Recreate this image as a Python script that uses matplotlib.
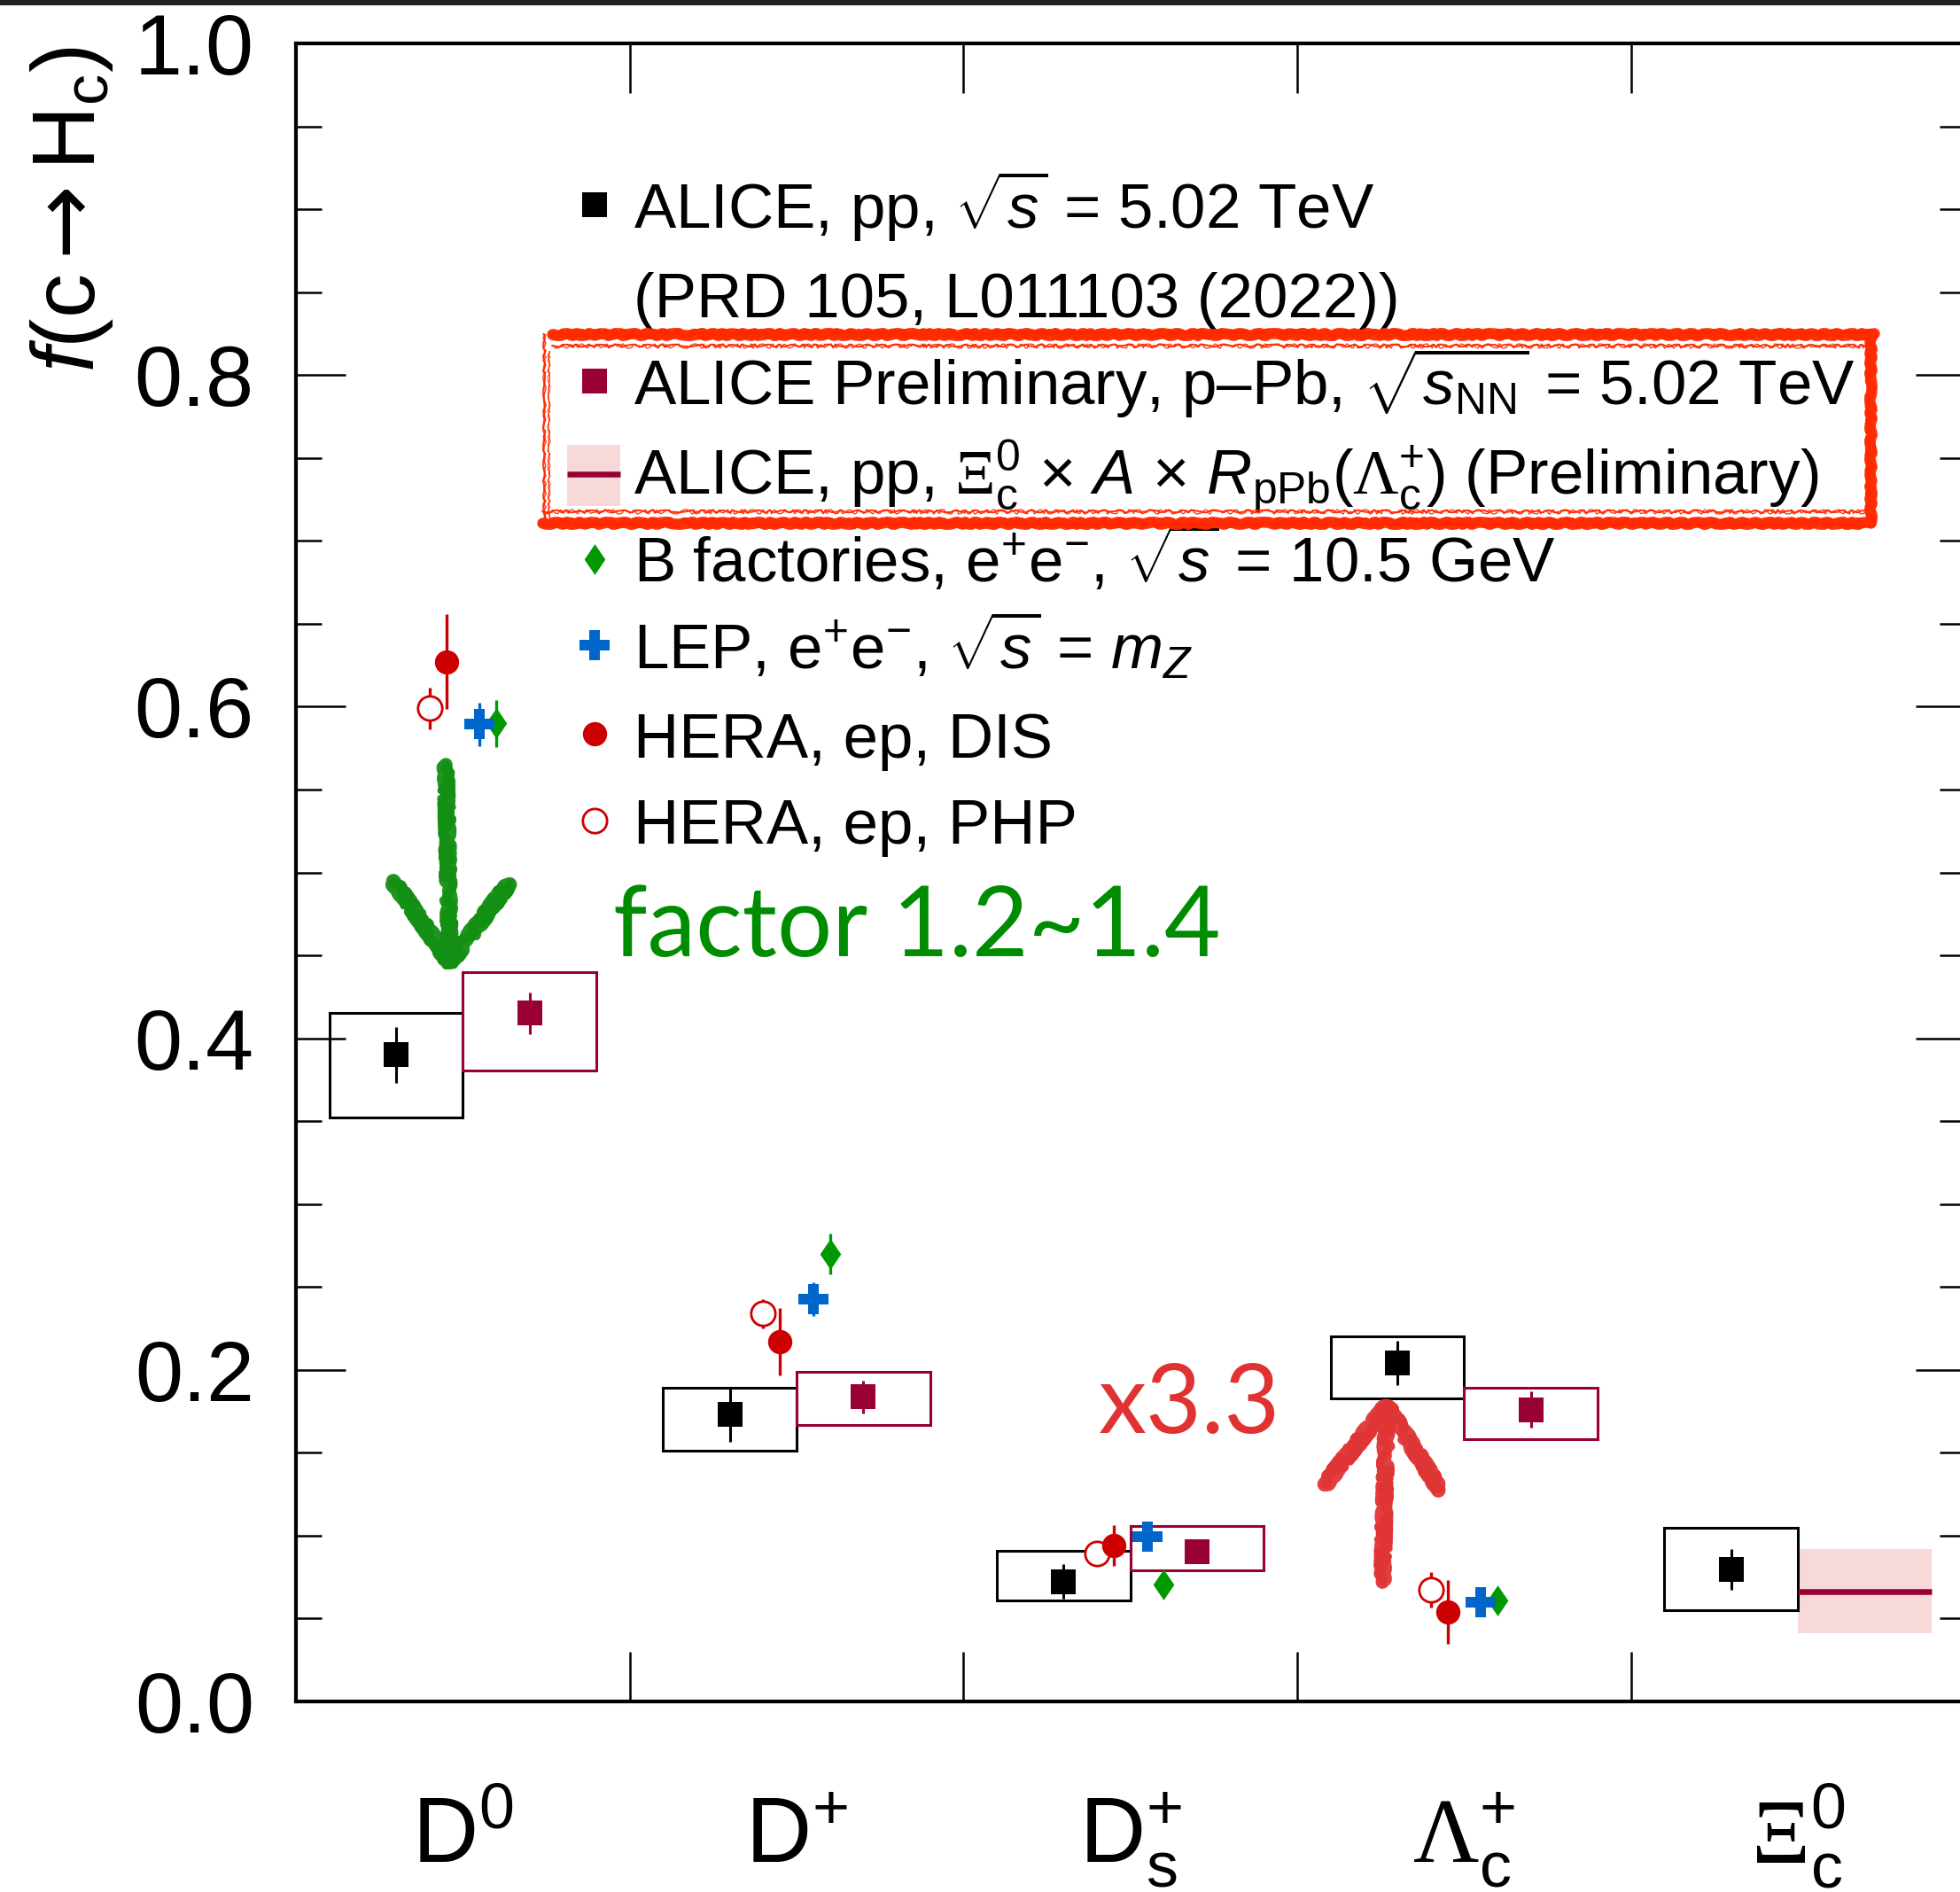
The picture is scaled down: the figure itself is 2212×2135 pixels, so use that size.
import matplotlib
matplotlib.use('Agg')
import matplotlib.pyplot as plt
import numpy as np
from matplotlib.patches import Rectangle
from matplotlib.ticker import MultipleLocator, FormatStrFormatter

plt.rcParams['font.family'] = ['Liberation Sans', 'DejaVu Sans']
plt.rcParams['mathtext.fontset'] = 'custom'
plt.rcParams['mathtext.rm'] = 'Liberation Sans'
plt.rcParams['mathtext.it'] = 'Liberation Sans:italic'
plt.rcParams['mathtext.bf'] = 'Liberation Sans:bold'
plt.rcParams['mathtext.sf'] = 'Liberation Serif'
plt.rcParams['mathtext.tt'] = 'DejaVu Sans'   # used only for the arrow glyph

# charm hadron species
hadrons = [r'$\mathrm{D^{0}}$', r'$\mathrm{D^{+}}$', r'$\mathrm{D_{s}^{+}}$',
           r'$\mathsf{\Lambda}_{\mathrm{c}}^{+}$', r'$\mathsf{\Xi}_{\mathrm{c}}^{0}$']

# ALICE pp 5.02 TeV (PRD 105, L011103)
pp_val = [0.390, 0.173, 0.0724, 0.2042, 0.0796]
pp_stat = [0.017, 0.0166, 0.0104, 0.0132, 0.0125]
pp_sys_lo = [0.352, 0.1514, 0.0611, 0.1826, 0.0552]
pp_sys_hi = [0.4153, 0.1893, 0.0909, 0.2200, 0.1046]

# ALICE preliminary p-Pb 5.02 TeV (D0, D+, Ds+, Lc+)
ppb_val = [0.4152, 0.1836, 0.0901, 0.1759]
ppb_stat = [0.0125, 0.010, 0.004, 0.011]
ppb_sys_lo = [0.3804, 0.1669, 0.0791, 0.1580]
ppb_sys_hi = [0.4398, 0.1986, 0.1057, 0.1892]

# Xi_c0 in p-Pb from pp x A x R_pPb(Lc+)
xic_ppb_val = 0.0664
xic_ppb_lo = 0.0410
xic_ppb_hi = 0.0917

# e+e- and ep results (D0, D+, Ds+, Lc+)
bfac_val = [0.5898, 0.2699, 0.0703, 0.0609]
bfac_err = [0.014, 0.0123, 0.004, 0.004]
lep_val = [0.5893, 0.2426, 0.0992, 0.0600]
lep_err = [0.013, 0.0103, 0.004, 0.004]
dis_val = [0.6271, 0.2168, 0.0939, 0.0538]
dis_err = [0.0287, 0.0203, 0.0123, 0.0193]
php_val = [0.5989, 0.2339, 0.0894, 0.0671]
php_err = [0.0126, 0.0089, 0.004, 0.0107]

c_pp = 'black'
c_ppb = '#990033'
c_band = '#f8d9d9'
c_bfac = '#009900'
c_lep = '#0066cc'
c_hera = '#cc0000'

diamond = [(0, 1), (0.68, 0), (0, -1), (-0.68, 0)]

fig = plt.figure(figsize=(22.12, 21.35), dpi=100)
ax = fig.add_axes([334/2212, 215/2135, 1883.5/2212, 1871/2135])

idx = np.arange(len(pp_val))
idx4 = np.arange(len(ppb_val))

# systematic boxes
for i in idx:
    ax.add_patch(Rectangle((i + 0.1, pp_sys_lo[i]), 0.4, pp_sys_hi[i] - pp_sys_lo[i],
                           fill=False, ec=c_pp, lw=2.2, zorder=2))
for i in idx4:
    ax.add_patch(Rectangle((i + 0.5, ppb_sys_lo[i]), 0.4, ppb_sys_hi[i] - ppb_sys_lo[i],
                           fill=False, ec=c_ppb, lw=2.2, zorder=2))

# Xi_c0 p-Pb estimate band
ax.fill_between([4.5, 4.9], [xic_ppb_lo]*2, [xic_ppb_hi]*2, color=c_band, lw=0, zorder=1)
ax.plot([4.5, 4.9], [xic_ppb_val]*2, color=c_ppb, lw=4.7, solid_capstyle='butt', zorder=2)

ax.errorbar(idx + 0.3, pp_val, yerr=pp_stat, fmt='s', color=c_pp, ms=19.5, mew=0,
            elinewidth=2.2, capsize=0, zorder=4)
ax.errorbar(idx4 + 0.7, ppb_val, yerr=ppb_stat, fmt='s', color=c_ppb, ms=19.5, mew=0,
            elinewidth=2.2, capsize=0, zorder=4)
ax.errorbar(idx4 + 0.4, php_val, yerr=php_err, fmt='o', color=c_hera, mfc='white', ms=19.7,
            mew=2.0, elinewidth=2.4, capsize=0, zorder=4)
ax.errorbar(idx4 + 0.45, dis_val, yerr=dis_err, fmt='o', color=c_hera, ms=19.7, mew=0,
            elinewidth=2.4, capsize=0, zorder=4)
ax.errorbar(idx4 + 0.55, lep_val, yerr=lep_err, fmt='P', color=c_lep, ms=23.8, mew=0,
            elinewidth=2.4, capsize=0, zorder=4)
ax.errorbar(idx4 + 0.6, bfac_val, yerr=bfac_err, fmt='none', ecolor=c_bfac,
            elinewidth=2.4, capsize=0, zorder=4)
ax.plot(idx4 + 0.6, bfac_val, ls='none', marker=diamond, color=c_bfac, ms=25, mew=0, zorder=4)

ax.set_xlim(0, 5)
ax.set_ylim(0, 1.0)

# axes styling
for s in ax.spines.values():
    s.set_linewidth(3.0)
ax.set_xticks([1, 2, 3, 4])
ax.set_xticklabels([])
ax.set_xticks(idx + 0.5, minor=True)
ax.set_xticklabels(hadrons, minor=True, fontsize=74)
for lab in ax.get_xticklabels(minor=True):
    lab.set_verticalalignment('baseline')
ax.yaxis.set_major_locator(MultipleLocator(0.2))
ax.yaxis.set_minor_locator(MultipleLocator(0.05))
ax.yaxis.set_major_formatter(FormatStrFormatter('%.1f'))
ax.tick_params(axis='both', which='both', direction='in', top=True, right=True, width=1.8)
ax.tick_params(axis='both', which='major', length=40)
ax.tick_params(axis='y', which='minor', length=21)
ax.tick_params(axis='x', which='minor', length=0, pad=131)
ax.tick_params(axis='y', which='major', labelsize=70, pad=34)

ax.set_ylabel(r'$f$(c$\mathtt{\rightarrow}$H$_{\mathrm{c}}$)', fontsize=72, loc='top')
ax.yaxis.set_label_coords(-0.1205, 0.9984)
ax.yaxis.label.set_verticalalignment('baseline')

# legend drawn by hand, row baselines in data units
leg_x_mark = 0.895
leg_x_text = 1.012
leg_base = [0.8883, 0.8349, 0.7819, 0.7285, 0.6750, 0.6227, 0.5692, 0.5173]
leg_text = [r'ALICE, pp, $\sqrt{s}$ = 5.02 TeV',
            '(PRD 105, L011103 (2022))',
            r'ALICE Preliminary, p–Pb, $\sqrt{s_{\mathrm{NN}}}$ = 5.02 TeV',
            r'ALICE, pp, $\mathsf{\Xi}_{\mathrm{c}}^{\mathrm{0}}$ × $A$ × $R_{\mathrm{pPb}}$($\mathsf{\Lambda}_{\mathrm{c}}^{+}$) (Preliminary)',
            r'B factories, e$^{+}$e$^{-}$, $\sqrt{s}$ = 10.5 GeV',
            r'LEP, e$^{+}$e$^{-}$, $\sqrt{s}$ = $m_{Z}$',
            'HERA, ep, DIS',
            'HERA, ep, PHP']
for y, t in zip(leg_base, leg_text):
    ax.text(leg_x_text, y, t, fontsize=51, ha='left', va='baseline', zorder=5)

off = 0.0142
ax.plot(leg_x_mark, leg_base[0] + off, 's', color=c_pp, ms=19.5, mew=0)
ax.plot(leg_x_mark, leg_base[2] + off, 's', color=c_ppb, ms=19.5, mew=0)
ax.add_patch(Rectangle((0.812, 0.7212), 0.16, 0.0365, color=c_band, lw=0))
ax.plot([0.812, 0.972], [0.740, 0.740], color=c_ppb, lw=4.7, solid_capstyle='butt')
ax.plot(leg_x_mark, leg_base[4] + off, ls='none', marker=diamond, color=c_bfac, ms=25, mew=0)
ax.plot(leg_x_mark, leg_base[5] + off, 'P', color=c_lep, ms=23.8, mew=0)
ax.plot(leg_x_mark, leg_base[6] + off, 'o', color=c_hera, ms=19.7, mew=0)
ax.plot(leg_x_mark, leg_base[7] + off, 'o', color=c_hera, mfc='white', ms=19.7, mew=2.0)


def scribble(xs, ys, color, lw, z=6, scale=3, rnd=25):
    # rough, hand-drawn looking stroke
    for w, sc, ln in [(lw, scale, 30), (lw * 0.6, scale * 2, 18)]:
        line, = ax.plot(xs, ys, color=color, lw=w, solid_capstyle='round',
                        solid_joinstyle='round', zorder=z, alpha=0.95)
        line.set_sketch_params(scale=sc, length=ln, randomness=rnd)


# red highlight around the p-Pb entries
c_mark = '#ff2a00'
rx0, rx1, ry0, ry1 = 0.738, 4.717, 0.7109, 0.8247
for dy in (0.0, 0.007):
    w = 9 if dy == 0 else 1.5
    scribble([rx0 + 0.03, rx1 + 0.01], [ry1 - dy, ry1 - dy], c_mark, w, scale=1.2, rnd=8)
    scribble([rx0, rx1], [ry0 + dy, ry0 + dy], c_mark, w, scale=1.2, rnd=8)
    scribble([rx1 - dy, rx1 - dy], [ry0, ry1], c_mark, w, scale=1.2, rnd=8)
scribble([rx0 + 0.004, rx0 + 0.004], [ry0, ry1], c_mark, 1.6, scale=0.8, rnd=6)
scribble([rx0 + 0.018, rx0 + 0.018], [ry0, ry1 - 0.01], c_mark, 1.0, scale=0.8, rnd=6)

# arrows
c_green = '#138f13'
scribble([0.449, 0.461], [0.565, 0.4457], c_green, 11)
scribble([0.292, 0.461, 0.637], [0.4947, 0.4457, 0.4932], c_green, 12)
c_red = '#e03535'
scribble([3.255, 3.268], [0.072, 0.178], c_red, 11)
scribble([3.082, 3.268, 3.427], [0.131, 0.178, 0.128], c_red, 12)

ax.text(0.95, 0.4495, 'factor 1.2~1.4', color='#008c00', fontsize=79,
        family='Lato', ha='left', va='baseline', zorder=7)
ax.text(2.405, 0.162, 'x3.3', color='#e03232', fontsize=78,
        family='Lato', ha='left', va='baseline', zorder=7)

fig.add_artist(Rectangle((0, 1 - 6/2135), 1, 6/2135, transform=fig.transFigure,
                         color='#222222', lw=0))

fig.savefig('out.png', dpi=100)
